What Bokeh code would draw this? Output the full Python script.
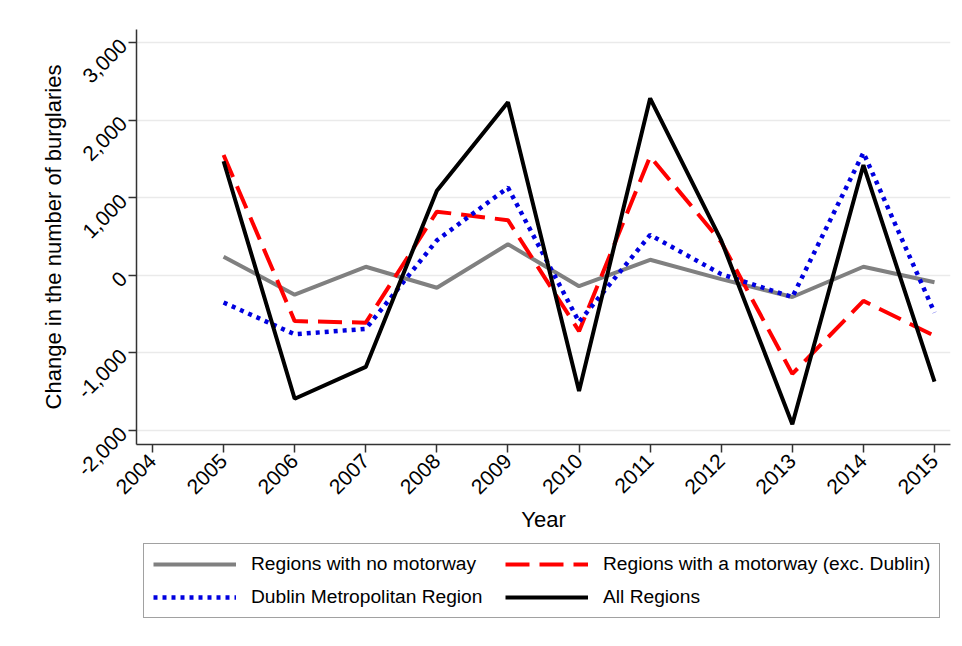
import math
from bokeh.plotting import figure
from bokeh.layouts import column
from bokeh.models import (FixedTicker, NumeralTickFormatter, PrintfTickFormatter,
                          Legend, LegendItem, Range1d)
from bokeh.embed import file_html
from bokeh.resources import INLINE

years = [2005, 2006, 2007, 2008, 2009, 2010, 2011, 2012, 2013, 2014, 2015]
no_motorway = [240, -250, 110, -160, 400, -140, 200, -50, -280, 110, -90]
motorway_exc_dublin = [1550, -590, -610, 820, 710, -720, 1530, 430, -1270, -330, -780]
dublin = [-350, -760, -690, 450, 1130, -600, 520, 15, -280, 1580, -480]
all_regions = [1470, -1590, -1180, 1090, 2230, -1490, 2280, 450, -1920, 1420, -1370]

series_labels = ["Regions with no motorway", "Regions with a motorway (exc. Dublin)",
                 "Dublin Metropolitan Region", "All Regions"]

x_ticks = list(range(2004, 2016))
y_ticks = [-2000, -1000, 0, 1000, 2000, 3000]

FONT = "Liberation Sans"
styles = [
    dict(line_color="#808080", line_width=4),
    dict(line_color="#ff0000", line_width=4, line_dash="24 10"),
    dict(line_color="#0000e0", line_width=4.5, line_dash="4 5"),
    dict(line_color="black", line_width=4),
]
series = [no_motorway, motorway_exc_dublin, dublin, all_regions]

p = figure(width=962, height=535, output_backend="svg", toolbar_location=None,
           x_range=Range1d(2003.775, 2015.225), y_range=Range1d(-2180, 3167),
           min_border_left=136, min_border_right=12, min_border_top=29,
           min_border_bottom=89)
p.outline_line_color = None
p.background_fill_color = "white"
p.border_fill_color = "white"

p.xgrid.grid_line_color = None
p.ygrid.ticker = FixedTicker(ticks=y_ticks)
p.ygrid.grid_line_color = "#eaeaea"
p.ygrid.grid_line_width = 1.5

for ax in (p.xaxis[0], p.yaxis[0]):
    ax.axis_line_color = "#333333"
    ax.axis_line_width = 1.5
    ax.major_tick_line_color = "#333333"
    ax.major_tick_line_width = 1.5
    ax.major_tick_out = 8
    ax.major_tick_in = 0
    ax.minor_tick_line_color = None
    ax.major_label_text_font = FONT
    ax.major_label_text_font_size = "21px"
    ax.major_label_text_color = "black"
    ax.axis_label_text_font = FONT
    ax.axis_label_text_font_size = "22px"
    ax.axis_label_text_font_style = "normal"
    ax.axis_label_text_color = "black"

p.xaxis.ticker = FixedTicker(ticks=x_ticks)
p.xaxis.formatter = PrintfTickFormatter(format="%d")
p.xaxis.major_label_orientation = math.pi / 4
p.xaxis.axis_label = "Year"
p.xaxis.axis_label_standoff = 4

p.yaxis.ticker = FixedTicker(ticks=y_ticks)
p.yaxis.formatter = NumeralTickFormatter(format="0,0")
p.yaxis.major_label_orientation = math.pi / 4
p.yaxis.axis_label = "Change in the number of burglaries"
p.yaxis.axis_label_standoff = 2

for ys, st in zip(series, styles):
    p.line(years, ys, **st)

# legend panel (separate strip below the chart)
q = figure(width=962, height=111, output_backend="svg", toolbar_location=None,
           x_range=Range1d(0, 1), y_range=Range1d(0, 1), min_border=0)
q.axis.visible = False
q.grid.grid_line_color = None
q.outline_line_color = None
q.border_fill_color = "white"
rs = [q.line(years, ys, **st) for ys, st in zip(series, styles)]
order = [0, 2, 1, 3]  # column-major fill: col 1 = gray, blue; col 2 = red, black
legend = Legend(items=[LegendItem(label=series_labels[i], renderers=[rs[i]]) for i in order],
                ncols=2, location=(7, 28))
legend.label_text_font = FONT
legend.label_text_font_size = "19.2px"
legend.label_text_color = "black"
legend.glyph_width = 83
legend.glyph_height = 20
legend.label_standoff = 15
legend.label_width = 243
legend.spacing = 11
legend.padding = 9
legend.margin = 0
legend.border_line_color = "#444444"
legend.border_line_width = 1.5
legend.background_fill_alpha = 1
q.add_layout(legend, "center")

open("out.html", "w").write(file_html(column(p, q, spacing=0), INLINE))
